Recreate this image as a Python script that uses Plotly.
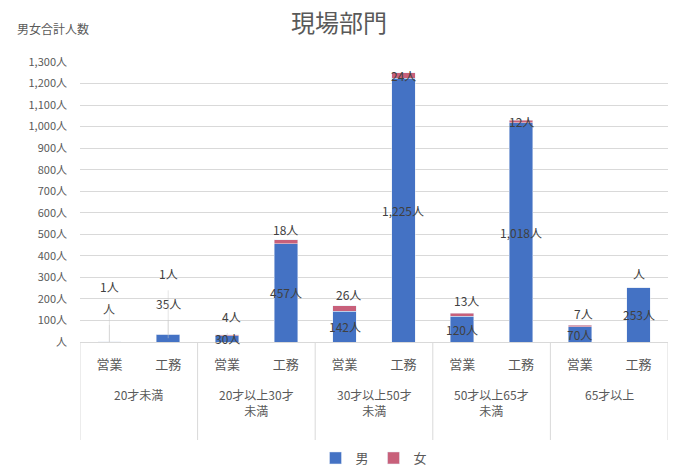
import plotly.graph_objects as go

# Age groups and departments
age_groups = ["20才未満", "20才以上30才<br>未満", "30才以上50才<br>未満", "50才以上65才<br>未満", "65才以上"]
departments = ["営業", "工務"]

# Head counts per (age group, department), in the same order
male = [0, 35, 30, 457, 142, 1225, 120, 1018, 70, 253]
female = [1, 1, 4, 18, 26, 24, 13, 12, 7, 0]

y_ticks = list(range(0, 1400, 100))

BLUE = "#4472C4"
PINK = "#C8607A"
FONT = "Noto Sans CJK JP"
GREY = "#595959"
LINE = "#d9d9d9"

PLOT_H = 280  # plot-area height in px (470 - top 62 - bottom 128)


def fmt(v):
    # Excel-style "#,###人": zero shows only the unit
    return (f"{v:,}" if v else "") + "人"


n_sub = len(departments)
sub_labels = [d for _ in age_groups for d in departments]
xpos = list(range(len(sub_labels)))

fig = go.Figure()
fig.add_bar(name="男", x=xpos, y=male, marker_color=BLUE)
fig.add_bar(name="女", x=xpos, y=female, marker_color=PINK)

# pixel offsets of callout labels (index -> (ax, ay))
male_offsets = {0: (0, -34), 1: (0, -35)}
female_offsets = {0: (0, -55), 1: (0, -61), 2: (4, -19), 3: (0, -12),
                  4: (4, -14), 6: (4, -14), 8: (4, -13), 9: (0, -14)}

annotations = []
for i, (m, f) in enumerate(zip(male, female)):
    for val, anchor, offs in ((m, m / 2, male_offsets), (f, m + f / 2, female_offsets)):
        ax, ay = offs.get(i, (0, 0))
        annotations.append(dict(
            x=i, y=anchor, xref="x", yref="y", text=fmt(val),
            showarrow=bool(ay), ax=ax, ay=ay, arrowhead=0, arrowwidth=0.5,
            arrowcolor="#c8c8c8", standoff=0, startstandoff=7,
            font=dict(family=FONT, size=12, color="#404040"),
        ))

# age-group labels centred under each pair of bars
for k, g in enumerate(age_groups):
    annotations.append(dict(
        x=k * n_sub + (n_sub - 1) / 2, y=-42 / PLOT_H, xref="x", yref="paper",
        text=g, showarrow=False, yanchor="top", align="center",
        font=dict(family=FONT, size=12, color=GREY),
    ))

annotations.append(dict(
    x=-65 / 588, y=1 + 34 / PLOT_H, xref="paper", yref="paper", text="男女合計人数",
    showarrow=False, xanchor="left", yanchor="middle",
    font=dict(family=FONT, size=12, color=GREY),
))

# group dividers below the axis
shapes = [dict(type="line", xref="x", yref="paper",
               x0=k * n_sub - 0.5, x1=k * n_sub - 0.5, y0=0, y1=-98 / PLOT_H,
               line=dict(color=LINE, width=1))
          for k in range(len(age_groups) + 1)]

fig.update_layout(
    width=678, height=470,
    margin=dict(l=80, r=10, t=62, b=128, autoexpand=False),
    paper_bgcolor="white", plot_bgcolor="white",
    barmode="stack", bargap=0.6,
    title=dict(text="現場部門", x=0.5, xanchor="center", y=1 - 24 / 470, yanchor="middle",
               font=dict(family=FONT, size=24, color=GREY)),
    font=dict(family=FONT, size=12, color=GREY),
    xaxis=dict(range=[-0.5, len(xpos) - 0.5], tickvals=xpos, ticktext=sub_labels,
               showgrid=False, zeroline=False, showline=True, linecolor=LINE,
               ticks="", automargin=False, ticklabelstandoff=10,
               tickfont=dict(family=FONT, size=13, color=GREY)),
    yaxis=dict(range=[0, 1300], tickvals=y_ticks, ticktext=[fmt(v) for v in y_ticks],
               showgrid=True, gridcolor=LINE, zeroline=False, showline=False,
               automargin=False, ticklabelstandoff=12,
               tickfont=dict(family=FONT, size=11, color=GREY), ticks=""),
    legend=dict(orientation="h", x=0.5, xanchor="center", yref="container",
                y=12 / 470, yanchor="middle", traceorder="normal",
                font=dict(family=FONT, size=13, color=GREY), itemwidth=30),
    shapes=shapes,
    annotations=annotations,
)

fig.write_html("out.html")
